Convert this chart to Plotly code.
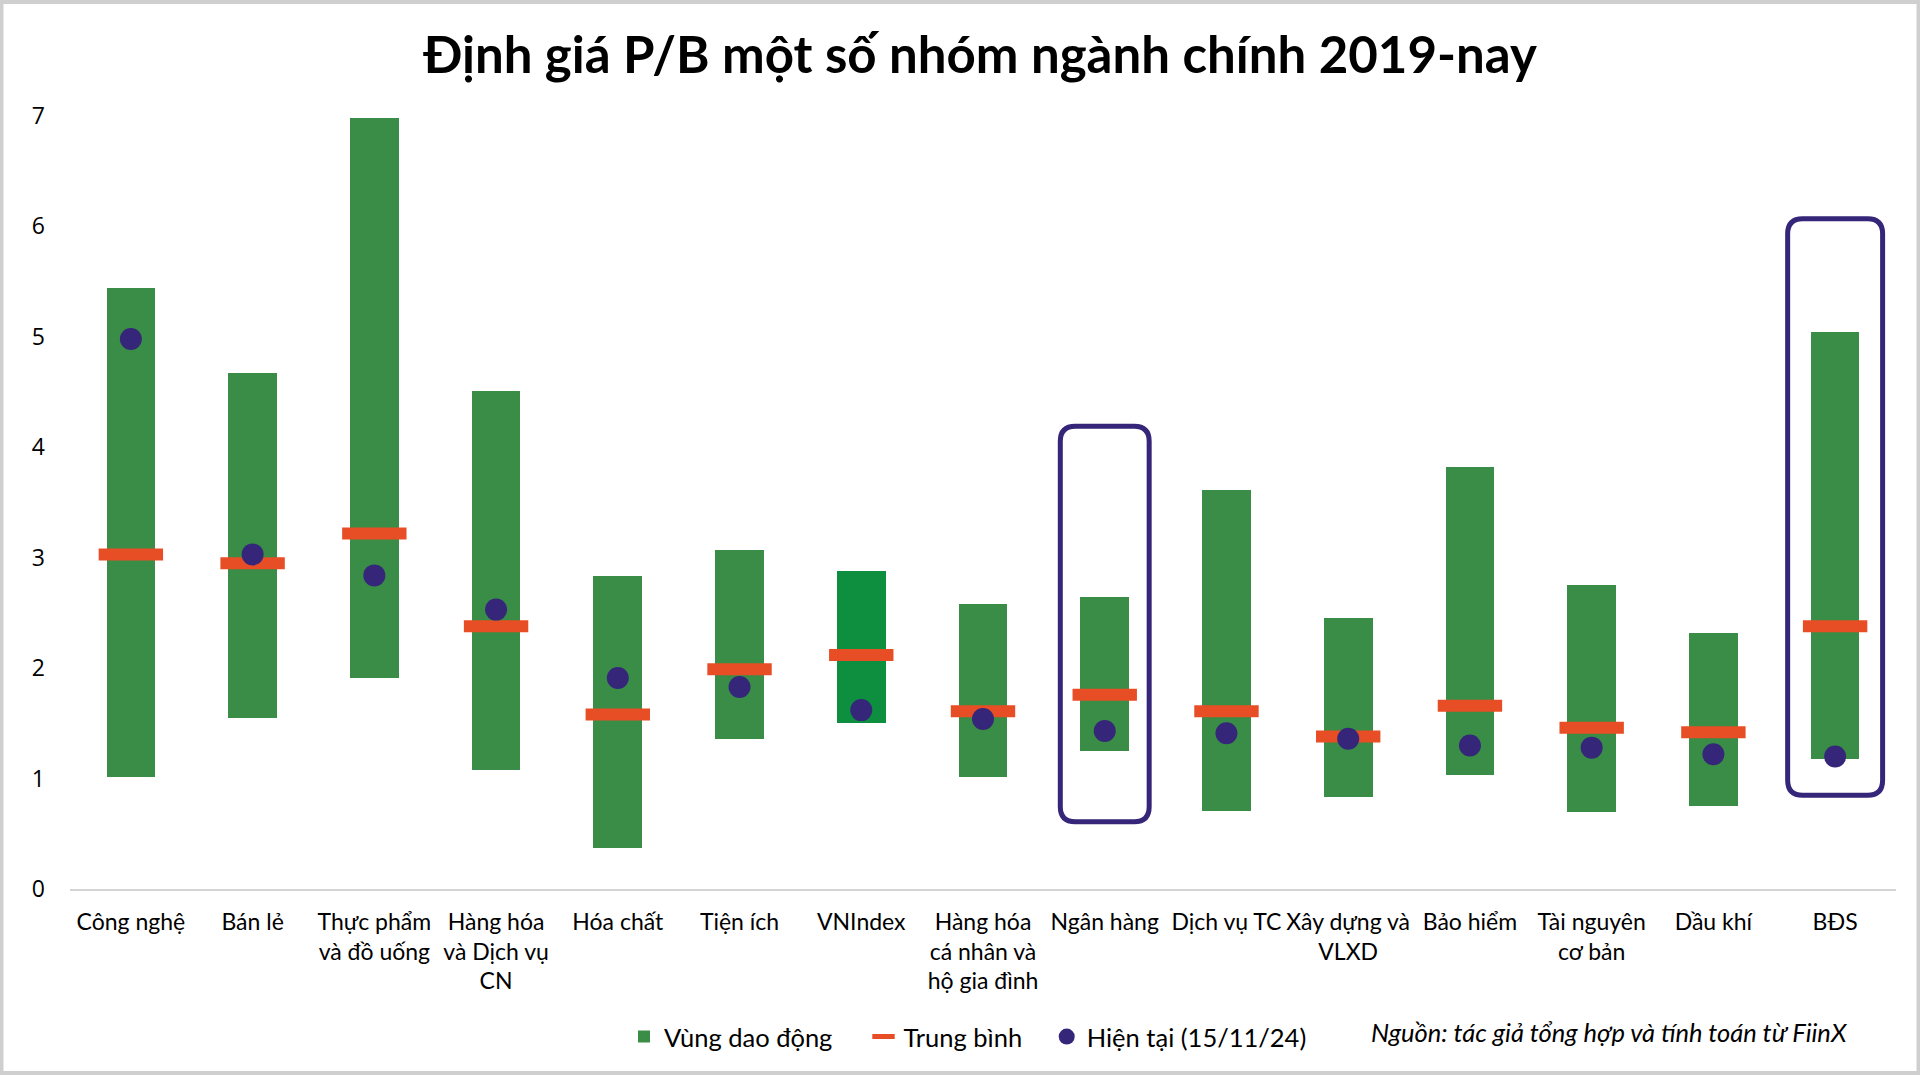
import plotly.graph_objects as go

# ---------------- data ----------------
categories = [
    "Công nghệ", "Bán lẻ", "Thực phẩm<br>và đồ uống", "Hàng hóa<br>và Dịch vụ<br>CN",
    "Hóa chất", "Tiện ích", "VNIndex", "Hàng hóa<br>cá nhân và<br>hộ gia đình",
    "Ngân hàng", "Dịch vụ TC", "Xây dựng và<br>VLXD", "Bảo hiểm",
    "Tài nguyên<br>cơ bản", "Dầu khí", "BĐS",
]
range_low = [1.01, 1.55, 1.91, 1.08, 0.37, 1.36, 1.50, 1.01, 1.25, 0.71, 0.83, 1.03, 0.70, 0.75, 1.18]
range_high = [5.44, 4.67, 6.98, 4.51, 2.83, 3.07, 2.88, 2.58, 2.64, 3.61, 2.45, 3.82, 2.75, 2.32, 5.04]
mean_val = [3.03, 2.95, 3.22, 2.38, 1.58, 1.99, 2.12, 1.61, 1.76, 1.61, 1.38, 1.66, 1.46, 1.42, 2.38]
current_val = [4.98, 3.03, 2.84, 2.53, 1.91, 1.83, 1.62, 1.54, 1.43, 1.41, 1.36, 1.30, 1.28, 1.22, 1.20]
y_ticks = [0, 1, 2, 3, 4, 5, 6, 7]
# highlighted groups: (category index, lower edge, upper edge, half width)
highlights = [(8, 0.61, 4.19, 0.365), (14, 0.85, 6.07, 0.39)]

GREEN = "#3a8d46"
GREEN_VN = "#0e8f40"
ORANGE = "#e84e25"
PURPLE = "#35267a"
FONT = "Lato"

x = list(range(len(categories)))
bar_colors = [GREEN_VN if c == "VNIndex" else GREEN for c in categories]

fig = go.Figure()
fig.add_trace(go.Bar(
    x=x, y=[h - l for h, l in zip(range_high, range_low)], base=range_low,
    width=0.4, marker=dict(color=bar_colors, line=dict(width=0)),
    name="Vùng dao động\u00a0\u00a0\u00a0\u00a0", showlegend=True,
))
fig.add_trace(go.Scatter(
    x=x, y=mean_val, mode="markers",
    marker=dict(symbol="line-ew", size=46, color=ORANGE, line=dict(color=ORANGE, width=12)),
    name="Trung bình\u00a0\u00a0\u00a0",
))
fig.add_trace(go.Scatter(
    x=x, y=current_val, mode="markers",
    marker=dict(symbol="circle", size=22, color=PURPLE, line=dict(width=0)),
    name="Hiện tại (15/11/24)",
))

# rounded highlight boxes
L, R, T, B = 70, 24, 116, 186
W, H = 1920, 1075
px_x = (W - L - R) / len(categories)
px_y = (H - T - B) / 7
rad = 15
rx, ry = rad / px_x, rad / px_y
shapes = []
for idx, y0, y1, hw in highlights:
    x0, x1 = idx - hw, idx + hw
    path = (f"M{x0+rx},{y0} L{x1-rx},{y0} Q{x1},{y0} {x1},{y0+ry} "
            f"L{x1},{y1-ry} Q{x1},{y1} {x1-rx},{y1} L{x0+rx},{y1} "
            f"Q{x0},{y1} {x0},{y1-ry} L{x0},{y0+ry} Q{x0},{y0} {x0+rx},{y0} Z")
    shapes.append(dict(type="path", path=path, xref="x", yref="y",
                       line=dict(color=PURPLE, width=5), layer="above"))
# outer frame
fx0 = -L / (W - L - R)
fx1 = 1 + R / (W - L - R)
fy0 = -B / (H - T - B)
fy1 = 1 + T / (H - T - B)
pad_x = 1.5 / (W - L - R)
pad_y = 2 / (H - T - B)
shapes.append(dict(type="rect", xref="paper", yref="paper",
                   x0=fx0 + pad_x, x1=fx1 - pad_x, y0=fy0 + pad_y, y1=fy1 - pad_y,
                   line=dict(color="#cfcfcf", width=4), layer="below"))

fig.update_layout(
    width=W, height=H,
    margin=dict(l=L, r=R, t=T, b=B),
    paper_bgcolor="white", plot_bgcolor="white",
    font=dict(family=FONT, color="#000000"),
    title=dict(text="<b>Định giá P/B một số nhóm ngành chính 2019-nay</b>",
               x=0.5104, xanchor="center", y=1 - 55 / H, yanchor="middle",
               font=dict(family=FONT, size=51, color="#000000")),
    xaxis=dict(range=[-0.5, len(categories) - 0.5], tickvals=x, ticktext=categories,
               showgrid=False, zeroline=False, showline=True, linecolor="#d4d4d4",
               linewidth=2, ticks="", ticklabelstandoff=11,
               tickfont=dict(family=FONT, size=23, color="#000000")),
    yaxis=dict(range=[0, 7], tickvals=y_ticks, showgrid=False, zeroline=False,
               showline=False, ticks="", ticklabelstandoff=24,
               tickfont=dict(family="Open Sans", size=23, color="#000000")),
    legend=dict(orientation="h", xref="container", yref="container",
                x=624 / W, xanchor="left", y=1 - 1037 / H, yanchor="middle",
                font=dict(family=FONT, size=25.5, color="#000000"),
                traceorder="normal", bgcolor="rgba(0,0,0,0)"),
    shapes=shapes,
    annotations=[dict(text="<i>Nguồn: tác giả tổng hợp và tính toán từ FiinX</i>",
                      xref="paper", yref="paper",
                      x=(1609.5 - L) / (W - L - R), y=(H - B - 1032) / (H - T - B),
                      xanchor="center", yanchor="middle", showarrow=False,
                      font=dict(family=FONT, size=25.5, color="#000000"))],
    bargap=0,
)

fig.write_html("out.html", config={"displayModeBar": False},
               post_script="document.body.style.margin='0';")
